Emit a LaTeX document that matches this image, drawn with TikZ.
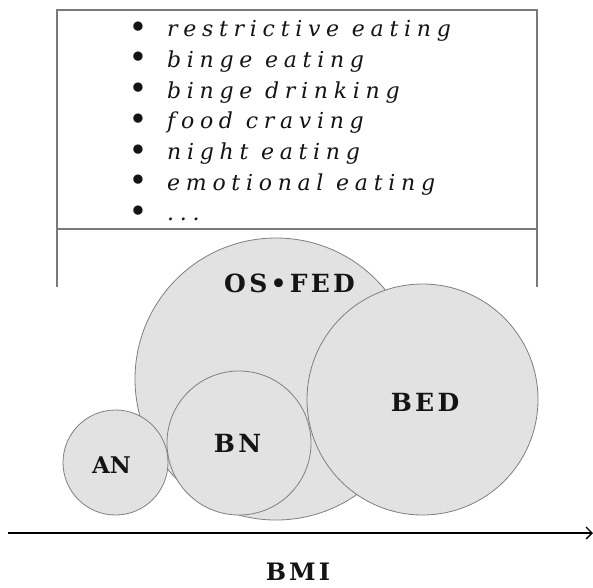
\documentclass[tikz,border=0pt]{standalone}
\usepackage{fontspec}
\setmainfont{DejaVu Serif}
\newfontfamily\listfont{DejaVu Serif}[LetterSpace=26]
\newfontfamily\labfont{DejaVu Serif}[LetterSpace=13]
\newfontfamily\labfontn{DejaVu Serif}
\usetikzlibrary{arrows.meta}
\definecolor{linegray}{HTML}{7A7A7A}
\definecolor{circfill}{HTML}{E2E2E2}
\definecolor{circline}{HTML}{7F7F7F}
\definecolor{txt}{HTML}{141414}
\begin{document}
\begin{tikzpicture}[x=1pt,y=-1pt,
  blob/.style={circle,draw=circline,fill=circfill,line width=0.8pt,inner sep=0pt},
  lab/.style={inner sep=0pt,text=txt,font=\labfont\bfseries\fontsize{25}{25}\selectfont},
  labn/.style={inner sep=0pt,text=txt,font=\labfontn\bfseries\fontsize{23}{23}\selectfont},
  item/.style={anchor=base west,inner sep=0pt,text=txt,font=\listfont\itshape\fontsize{22}{22}\selectfont},
  dot/.style={anchor=base,inner sep=0pt,yshift=-1.5pt,text=txt,font=\fontsize{32}{32}\selectfont},
  boxline/.style={draw=linegray,line width=1.4pt}]
\useasboundingbox (0,0) rectangle (593,587);
% box
\coordinate (bl) at (57,287);
\coordinate (tl) at (57,10);
\coordinate (tr) at (537,10);
\coordinate (br) at (537,287);
\coordinate (ml) at (57,229);
\coordinate (mr) at (537,229);
\draw[boxline] (bl) -- (tl) -- (tr) -- (br);
\draw[boxline] (ml) -- (mr);
% list
\foreach \t/\y [count=\i] in {restrictive eating/36.7, binge eating/67.4, binge drinking/98.1, food craving/128.8, night eating/159.5, emotional eating/190.2}{
  \node[dot] (b\i) at (138,\y) {•};
  \node[item] (t\i) at (167,\y) {\t};
}
\node[dot] (b7) at (138,220.9) {•};
\node[item] (t7) at (167,220.9) {...};
% circles
\node[blob,minimum size=282pt] (osfed) at (276,379) {};
\node[blob,minimum size=231pt] (bed) at (422.5,399.5) {};
\node[blob,minimum size=144pt] (bn) at (239,443) {};
\node[blob,minimum size=105pt] (an) at (115.5,462.5) {};
% labels
\node[lab] (losfed) at (289.5,283) {OS•FED};
\node[lab] (lbed) at (425,402) {BED};
\node[lab] (lbn) at (237.5,443) {BN};
\node[labn] (lan) at (111.5,465) {AN};
% axis
\coordinate (ax0) at (8,533);
\coordinate (ax1) at (593,533);
\draw[line width=1.4pt,-{Straight Barb[length=6pt,width=12pt,line width=1.3pt]}] (ax0) -- (ax1);
\node[lab,font=\labfont\bfseries\fontsize{24}{24}\selectfont] (bmi) at (298,572) {BMI};
\end{tikzpicture}
\end{document}
